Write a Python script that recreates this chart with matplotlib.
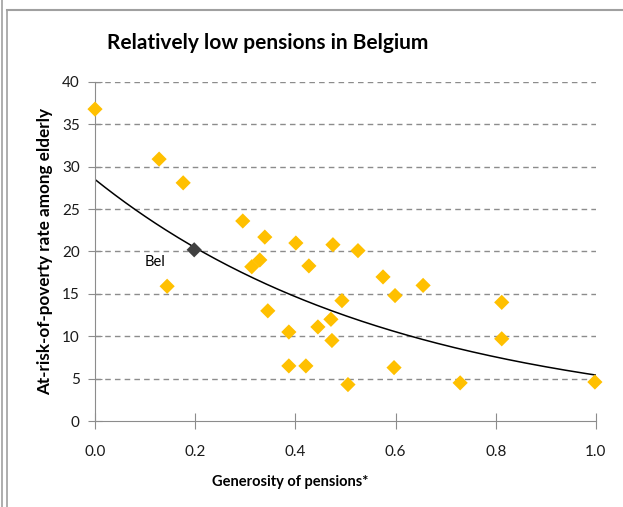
import numpy as np
import matplotlib
matplotlib.use("Agg")
import matplotlib.pyplot as plt
from matplotlib.lines import Line2D

# Generosity of pensions vs at-risk-of-poverty rate among elderly
generosity = [0.0, 0.128, 0.176, 0.295, 0.339, 0.401, 0.475, 0.525, 0.313, 0.329,
              0.427, 0.575, 0.655, 0.599, 0.493, 0.812, 0.144, 0.345, 0.387, 0.445,
              0.471, 0.473, 0.812, 0.387, 0.421, 0.597, 0.505, 0.729, 0.998]
poverty = [36.8, 30.9, 28.1, 23.6, 21.7, 21.0, 20.8, 20.1, 18.2, 19.0,
           18.3, 17.0, 16.0, 14.8, 14.2, 14.0, 15.9, 13.0, 10.5, 11.1,
           12.0, 9.5, 9.7, 6.5, 6.5, 6.3, 4.3, 4.5, 4.6]

bel_x, bel_y = 0.198, 20.2

# exponential trendline y = a * exp(b * x)
trend_a, trend_b = 28.5, -1.66

plt.rcParams['font.family'] = ['Lato', 'DejaVu Sans']

fig = plt.figure(figsize=(6.23, 5.07), dpi=100)

# frame lines like the screenshot border
fig.add_artist(Line2D([0.004, 0.004], [0, 1], color="#a0a0a0", lw=1.2))
fig.add_artist(Line2D([0.012, 0.012], [0, 0.981], color="#a0a0a0", lw=1.2))
fig.add_artist(Line2D([0.012, 1.0], [0.981, 0.981], color="#a0a0a0", lw=1.5))

ax = fig.add_axes([0.1525, 0.1696, 0.804, 0.6687])

ax.set_xlim(0, 1.0)
ax.set_ylim(0, 40)
ax.set_xticks(np.arange(0, 1.01, 0.2))
ax.set_xticklabels([f"{v:.1f}" for v in np.arange(0, 1.01, 0.2)])
ax.set_yticks(range(0, 41, 5))

for y in range(5, 41, 5):
    ax.axhline(y, color="#8c8c8c", lw=1, ls=(0, (4, 3)), zorder=0)

xs = np.linspace(0, 1, 200)
ax.plot(xs, trend_a * np.exp(trend_b * xs), color="black", lw=1.1, zorder=2)

ax.scatter(generosity, poverty, marker="D", s=60, color="#FFC000", edgecolors="none",
           zorder=3, clip_on=False)
ax.scatter([bel_x], [bel_y], marker="D", s=60, color="#404040", edgecolors="none",
           zorder=4)
ax.text(0.12, 18.8, "Bel", fontsize=10.5, ha="center", va="center")

for side in ["top", "right"]:
    ax.spines[side].set_visible(False)
for side in ["left", "bottom"]:
    ax.spines[side].set_color("#8c8c8c")
ax.tick_params(axis="both", colors="#8c8c8c", labelcolor="#1a1a1a", labelsize=11)
ax.tick_params(axis="y", direction="inout", length=10, pad=6)
ax.tick_params(axis="x", direction="inout", length=12, pad=11)

ax.set_xlabel("Generosity of pensions*", fontsize=10.5, fontweight="bold")
ax.xaxis.set_label_coords(0.39, -0.158)
ax.set_ylabel("At-risk-of-poverty rate among elderly", fontsize=12.3, fontweight="bold")
ax.yaxis.set_label_coords(-0.083, 0.5)

fig.text(0.429, 0.915, "Relatively low pensions in Belgium", fontsize=15,
         fontweight="bold", ha="center", va="center")

fig.savefig("out.png", dpi=100)
